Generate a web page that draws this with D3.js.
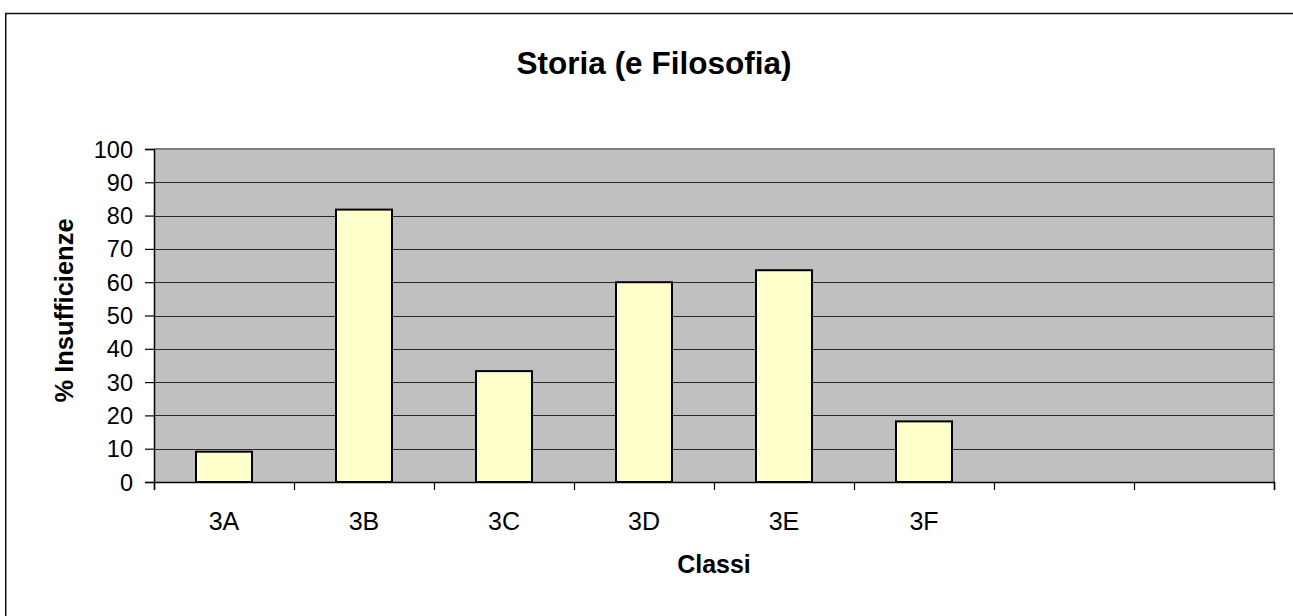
<!DOCTYPE html>
<html>
<head>
<meta charset="utf-8">
<script src="https://cdn.jsdelivr.net/npm/d3@7/dist/d3.min.js"></script>
<style>
  html, body { margin: 0; padding: 0; background: #fff; overflow: hidden; }
  svg { display: block; font-family: "Liberation Sans", Arial, sans-serif; }
</style>
</head>
<body>
<svg id="chart" width="1293" height="616"></svg>
<script>
const title = "Storia (e Filosofia)";
const xTitle = "Classi";
const yTitle = "% Insufficienze";
const categories = ["3A", "3B", "3C", "3D", "3E", "3F", "", ""];
const values = [9.1, 81.8, 33.3, 60.0, 63.6, 18.2, null, null];
const yTicks = [0, 10, 20, 30, 40, 50, 60, 70, 80, 90, 100];

const svg = d3.select("#chart");
const W = 1293, H = 616;
const plot = { left: 154, right: 1274, top: 149, bottom: 482 };

svg.append("rect").attr("width", W).attr("height", H).attr("fill", "#fff");
// outer chart border (extends past the viewport)
svg.append("rect")
  .attr("x", 5.75).attr("y", 13.5).attr("width", 1320).attr("height", 640)
  .attr("fill", "none").attr("stroke", "#111").attr("stroke-width", 1.5);

const idx = d3.range(categories.length);
const x = d3.scaleBand().domain(idx).range([plot.left, plot.right])
  .paddingInner(0.6).paddingOuter(0.3);
const xEdge = d3.scaleLinear().domain([0, categories.length]).range([plot.left, plot.right]);
const y = d3.scaleLinear().domain([0, 100]).range([plot.bottom, plot.top]);

// plot background
svg.append("rect")
  .attr("x", plot.left).attr("y", plot.top)
  .attr("width", plot.right - plot.left).attr("height", plot.bottom - plot.top)
  .attr("fill", "#C0C0C0");

// gridlines
svg.append("g").selectAll("line").data(yTicks.filter(d => d > 0 && d < 100)).join("line")
  .attr("x1", plot.left).attr("x2", plot.right)
  .attr("y1", d => Math.round(y(d)) + 0.5).attr("y2", d => Math.round(y(d)) + 0.5)
  .attr("stroke", "#2a2a2a").attr("stroke-width", 1);

// plot border top/right
svg.append("path")
  .attr("d", `M${plot.left},${plot.top} H${plot.right} V${plot.bottom}`)
  .attr("fill", "none").attr("stroke", "#808080").attr("stroke-width", 2);

// bars
svg.append("g").selectAll("rect").data(idx.filter(i => values[i] != null)).join("rect")
  .attr("x", i => x(i)).attr("width", x.bandwidth())
  .attr("y", i => y(values[i])).attr("height", i => y(0) - y(values[i]))
  .attr("fill", "#FFFFCC").attr("stroke", "#000").attr("stroke-width", 2);

// y axis
const yAxis = svg.append("g").attr("transform", `translate(${plot.left},0)`)
  .call(d3.axisLeft(y).tickValues(yTicks).tickSize(9).tickPadding(12));
yAxis.attr("font-size", null).attr("font-family", null);
yAxis.select(".domain").attr("stroke", "#000").attr("stroke-width", 1.5);
yAxis.selectAll(".tick line").attr("stroke", "#000").attr("stroke-width", 1.2);
yAxis.selectAll(".tick text")
  .attr("font-size", 23.5).attr("fill", "#000").attr("dy", "0.34em");

// x axis
const xAxis = svg.append("g").attr("transform", `translate(0,${plot.bottom})`)
  .call(d3.axisBottom(xEdge).tickValues(d3.range(categories.length + 1)).tickSize(8).tickFormat(""));
xAxis.select(".domain").attr("stroke", "#000").attr("stroke-width", 1.5);
xAxis.selectAll(".tick line").attr("stroke", "#000").attr("stroke-width", 1.2);

svg.append("g").selectAll("text").data(idx).join("text")
  .attr("x", i => x(i) + x.bandwidth() / 2).attr("y", 530)
  .attr("text-anchor", "middle").attr("font-size", 25).attr("fill", "#000")
  .text(i => categories[i]);

// titles
svg.append("text")
  .attr("x", 654).attr("y", 74)
  .attr("text-anchor", "middle").attr("font-size", 31.5).attr("font-weight", "bold")
  .text(title);

svg.append("text")
  .attr("x", (plot.left + plot.right) / 2).attr("y", 573)
  .attr("text-anchor", "middle").attr("font-size", 25).attr("font-weight", "bold")
  .text(xTitle);

svg.append("text")
  .attr("transform", `translate(73,${(plot.top + plot.bottom) / 2 - 5}) rotate(-90)`)
  .attr("text-anchor", "middle").attr("font-size", 25.5).attr("font-weight", "bold")
  .text(yTitle);
</script>
</body>
</html>
